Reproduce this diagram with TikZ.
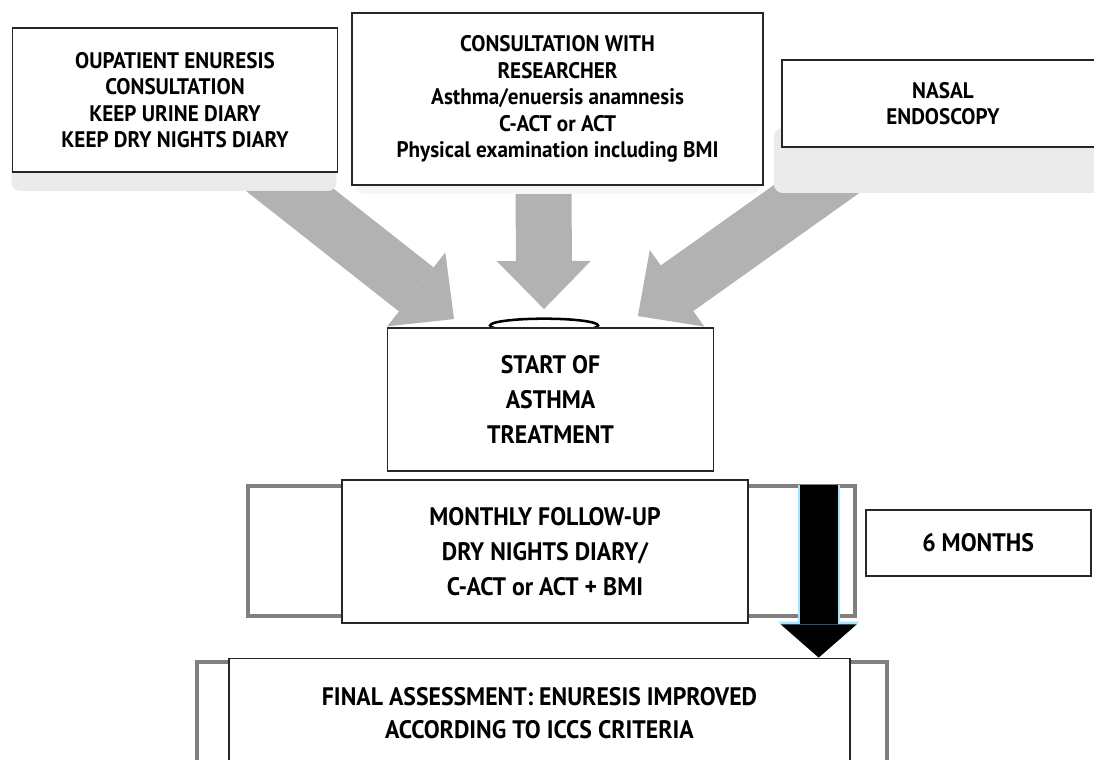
\documentclass[tikz,border=0pt]{standalone}
\usepackage{fontspec}
\setmainfont{PT Sans}[FakeStretch=0.94]
\usetikzlibrary{arrows.meta,positioning,calc}

\pgfdeclarelayer{arrows}
\pgfdeclarelayer{shades}
\pgfsetlayers{arrows,shades,main}

\begin{document}
\begin{tikzpicture}[
  box/.style={draw=black!85, line width=1.3pt, fill=white, align=center, font=\bfseries\fontsize{16}{18.8}\selectfont},
  bigbox/.style={box, font=\bfseries\fontsize{18}{24.8}\selectfont},
  backbox/.style={draw=black!50, line width=2.4pt, fill=white},
  dropshade/.style={fill=black!8, rounded corners=6pt},
  grayarr/.style={-{Triangle[length=1.2cm, width=2.35cm, line width=0pt]}, line width=1.4cm, black!30},
  blackarr/.style={-{Triangle[length=0.83cm, width=1.9cm, line width=0pt]}, line width=0.95cm, black}
]

\useasboundingbox (0,0) rectangle (27.35,-19);

% top row
\node[box, minimum width=8.125cm, minimum height=3.6cm] (outpat) at (4.375,-2.5)
  {OUPATIENT ENURESIS\\CONSULTATION\\KEEP URINE DIARY\\KEEP DRY NIGHTS DIARY};
\node[box, minimum width=10.275cm, minimum height=4.3cm] (consult) at (13.94,-2.475)
  {CONSULTATION WITH\\RESEARCHER\\Asthma/enuersis anamnesis\\C-ACT or ACT\\Physical examination including BMI};
\node[box, minimum width=8.05cm, minimum height=2.175cm] (nasal) at (23.575,-2.5875)
  {NASAL\\ENDOSCOPY};

% treatment and follow-up
\node[bigbox, minimum width=8.15cm, minimum height=3.575cm] (start) at (13.7625,-9.9875)
  {START OF\\ASTHMA\\TREATMENT};
\node[backbox, minimum width=15.175cm, minimum height=3.25cm] (monthback) at (13.7875,-13.775) {};
\node[bigbox, minimum width=10.15cm, minimum height=3.575cm] (monthly) at (13.625,-13.7875)
  {MONTHLY FOLLOW-UP\\DRY NIGHTS DIARY/\\C-ACT or ACT + BMI};
\node[bigbox, minimum width=5.625cm, minimum height=1.65cm, right=0.2cm of monthback, yshift=0.2cm] (sixm)
  {6 MONTHS};

% final
\node[backbox, minimum width=17.25cm, minimum height=3.45cm] (finalback) at (13.55,-18.275) {};
\node[bigbox, minimum width=15.525cm, minimum height=2.75cm, font=\bfseries\fontsize{18}{23.4}\selectfont] (final) at (13.4875,-17.8375)
  {FINAL ASSESSMENT: ENURESIS IMPROVED\\ACCORDING TO ICCS CRITERIA};

% shadows under the top boxes
\begin{pgfonlayer}{shades}
  \fill[dropshade] ($(outpat.south west)+(0,0.5)$) rectangle ($(outpat.south east)+(-0.05,-0.45)$);
  \fill[dropshade] ($(nasal.south west)+(-0.175,0.5)$) rectangle ($(nasal.south east)+(0,-1.125)$);
  \fill[dropshade, black!4] ($(consult.south west)+(0.1,0.3)$) rectangle ($(consult.south east)+(-0.1,-0.2)$);
  \draw[line width=1.8pt, fill=white] ($(start.north)+(-0.16,0.04)$) ellipse [x radius=1.35cm, y radius=0.17cm];
\end{pgfonlayer}

% gray arrows into the treatment box
\coordinate (t1) at ($(outpat.south east)+(-1.9125,0.125)$);
\coordinate (h1) at ($(start.north west)+(1.685,0.2)$);
\coordinate (t2) at ($(consult.south)+(-0.35,0.125)$);
\coordinate (h2) at ($(start.north)+(-0.1625,0.45)$);
\coordinate (t3) at ($(nasal.south west)+(1.7,-0.45)$);
\coordinate (h3) at ($(start.north east)+(-1.9125,0.275)$);
\begin{pgfonlayer}{arrows}
  \draw[grayarr] (t1) -- (h1);
  \draw[grayarr] (t2) -- (h2);
  \draw[grayarr] (t3) -- (h3);
\end{pgfonlayer}

% six month arrow
\coordinate (ttop) at ($(monthback.north east)+(-0.95,-0.025)$);
\draw[blackarr, line width=1.05cm, blue!30!cyan!35, -{Triangle[length=0.9cm, width=2.05cm, line width=0pt]}] (ttop) -- (final.north -| ttop);
\draw[blackarr] (ttop) -- (final.north -| ttop);

\end{tikzpicture}
\end{document}
